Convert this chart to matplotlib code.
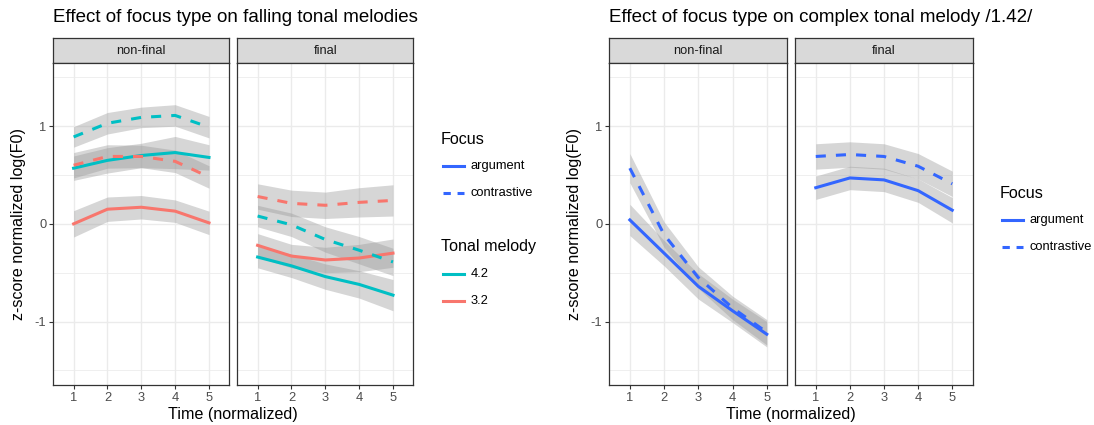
import numpy as np
import matplotlib
matplotlib.use('Agg')
import matplotlib.pyplot as plt
from matplotlib.lines import Line2D

plt.rcParams['font.family'] = ['Liberation Sans', 'DejaVu Sans']
plt.rcParams['axes.unicode_minus'] = False

W, H = 1094, 425

# data
time = [1, 2, 3, 4, 5]
positions = ['non-final', 'final']

# falling tonal melodies: means and ribbon half-widths
fall_nf_32_arg = [0.00, 0.15, 0.17, 0.13, 0.01]
fall_nf_32_arg_se = [0.135, 0.125, 0.12, 0.115, 0.12]
fall_nf_42_arg = [0.57, 0.65, 0.70, 0.73, 0.68]
fall_nf_42_arg_se = [0.125, 0.13, 0.125, 0.165, 0.13]
fall_nf_32_con = [0.60, 0.69, 0.69, 0.64, 0.48]
fall_nf_32_con_se = [0.13, 0.12, 0.115, 0.115, 0.115]
fall_nf_42_con = [0.89, 1.03, 1.09, 1.11, 0.99]
fall_nf_42_con_se = [0.105, 0.11, 0.105, 0.11, 0.11]

fall_f_32_arg = [-0.22, -0.33, -0.37, -0.35, -0.30]
fall_f_32_arg_se = [0.12, 0.12, 0.13, 0.14, 0.145]
fall_f_42_arg = [-0.34, -0.43, -0.54, -0.62, -0.73]
fall_f_42_arg_se = [0.11, 0.12, 0.13, 0.14, 0.16]
fall_f_32_con = [0.28, 0.21, 0.19, 0.22, 0.24]
fall_f_32_con_se = [0.13, 0.135, 0.135, 0.15, 0.16]
fall_f_42_con = [0.08, -0.01, -0.16, -0.27, -0.39]
fall_f_42_con_se = [0.11, 0.12, 0.13, 0.14, 0.14]

# complex tonal melody /1.42/
cx_nf_arg = [0.04, -0.30, -0.64, -0.89, -1.13]
cx_nf_arg_se = [0.16, 0.13, 0.13, 0.12, 0.13]
cx_nf_con = [0.57, -0.11, -0.55, -0.86, -1.11]
cx_nf_con_se = [0.15, 0.13, 0.11, 0.12, 0.13]
cx_f_arg = [0.37, 0.47, 0.45, 0.34, 0.14]
cx_f_arg_se = [0.12, 0.12, 0.12, 0.12, 0.13]
cx_f_con = [0.69, 0.71, 0.69, 0.59, 0.41]
cx_f_con_se = [0.13, 0.13, 0.13, 0.13, 0.13]

TEAL = '#00BFC4'
SALMON = '#F8766D'
BLUE = '#3366FF'
DASH = (0, (3.3, 3.3))
LEG_DASH = (0, (2.4, 2.2))

fig = plt.figure(figsize=(W / 100, H / 100), dpi=100)


def px_axes(x0, y0, x1, y1):
    return fig.add_axes([x0 / W, 1 - y1 / H, (x1 - x0) / W, (y1 - y0) / H])


def make_panel(x0, x1, label, show_y):
    # strip on top
    st = px_axes(x0, 38.3, x1, 62.7)
    st.set_facecolor('#D9D9D9')
    st.set_xticks([])
    st.set_yticks([])
    for s in st.spines.values():
        s.set_color('#333333')
        s.set_linewidth(0.9)
    st.text(0.5, 0.5, label, ha='center', va='center', fontsize=9.3,
            color='#1A1A1A', transform=st.transAxes)

    ax = px_axes(x0, 62.7, x1, 385)
    ax.set_xlim(0.4, 5.6)
    ax.set_ylim(-1.65, 1.65)
    ax.set_xticks(time)
    ax.set_yticks([-1, 0, 1])
    ax.set_yticks([-1.5, -0.5, 0.5, 1.5], minor=True)
    ax.grid(which='major', color='#EBEBEB', lw=1.0)
    ax.grid(which='minor', axis='y', color='#EBEBEB', lw=0.55)
    ax.set_axisbelow(True)
    ax.tick_params(which='major', length=3, width=0.8, color='#333333',
                   labelsize=9.3, labelcolor='#4D4D4D', pad=2)
    ax.tick_params(which='minor', length=0)
    if not show_y:
        ax.tick_params(axis='y', length=0, labelleft=False)
    for s in ax.spines.values():
        s.set_color('#333333')
        s.set_linewidth(0.9)
    return ax


def smooth(ax, mean, se, color, ls):
    mean = np.array(mean)
    se = np.array(se)
    ax.fill_between(time, mean - se, mean + se, color='#999999', alpha=0.4, lw=0)
    ax.plot(time, mean, color=color, lw=2.2, ls=ls)


# ---- left figure: falling tonal melodies
axL1 = make_panel(53.3, 229.3, positions[0], True)
axL2 = make_panel(237.3, 413.3, positions[1], False)

smooth(axL1, fall_nf_32_arg, fall_nf_32_arg_se, SALMON, '-')
smooth(axL1, fall_nf_42_arg, fall_nf_42_arg_se, TEAL, '-')
smooth(axL1, fall_nf_32_con, fall_nf_32_con_se, SALMON, DASH)
smooth(axL1, fall_nf_42_con, fall_nf_42_con_se, TEAL, DASH)

smooth(axL2, fall_f_32_arg, fall_f_32_arg_se, SALMON, '-')
smooth(axL2, fall_f_42_arg, fall_f_42_arg_se, TEAL, '-')
smooth(axL2, fall_f_32_con, fall_f_32_con_se, SALMON, DASH)
smooth(axL2, fall_f_42_con, fall_f_42_con_se, TEAL, DASH)

# ---- right figure: complex melody
axR1 = make_panel(609.3, 787.3, positions[0], True)
axR2 = make_panel(795.3, 972.7, positions[1], False)

smooth(axR1, cx_nf_arg, cx_nf_arg_se, BLUE, '-')
smooth(axR1, cx_nf_con, cx_nf_con_se, BLUE, DASH)
smooth(axR2, cx_f_arg, cx_f_arg_se, BLUE, '-')
smooth(axR2, cx_f_con, cx_f_con_se, BLUE, DASH)

# titles and axis labels
fig.text(53 / W, 1 - 18 / H, 'Effect of focus type on falling tonal melodies',
         fontsize=13.5, ha='left', va='center')
fig.text(609 / W, 1 - 18 / H, 'Effect of focus type on complex tonal melody /1.42/',
         fontsize=13.5, ha='left', va='center')
for xc in [233.3, 791]:
    fig.text(xc / W, 1 - 415 / H, 'Time (normalized)', fontsize=11.6,
             ha='center', va='center')
for xc in [19, 575]:
    fig.text(xc / W, 1 - 224 / H, 'z-score normalized log(F0)', fontsize=11.6,
             ha='center', va='center', rotation=90)


# legends
def legend_block(x, y_title, title, labels, colors, styles, step=27):
    fig.text(x / W, 1 - y_title / H, title, fontsize=11.6, ha='left', va='center')
    for i, (lab, c, s) in enumerate(zip(labels, colors, styles)):
        yy = 1 - (y_title + step * (i + 1)) / H
        fig.add_artist(Line2D([(x + 2) / W, (x + 23) / W], [yy, yy], color=c,
                              lw=2.2, ls=s, transform=fig.transFigure))
        fig.text((x + 30) / W, yy, lab, fontsize=9.3, ha='left', va='center')


legend_block(441, 139, 'Focus', ['argument', 'contrastive'], [BLUE, BLUE], ['-', LEG_DASH])
legend_block(441, 246.7, 'Tonal melody', ['4.2', '3.2'], [TEAL, SALMON], ['-', '-'])
legend_block(1000, 193, 'Focus', ['argument', 'contrastive'], [BLUE, BLUE], ['-', LEG_DASH])

fig.savefig('out.png', dpi=100)
